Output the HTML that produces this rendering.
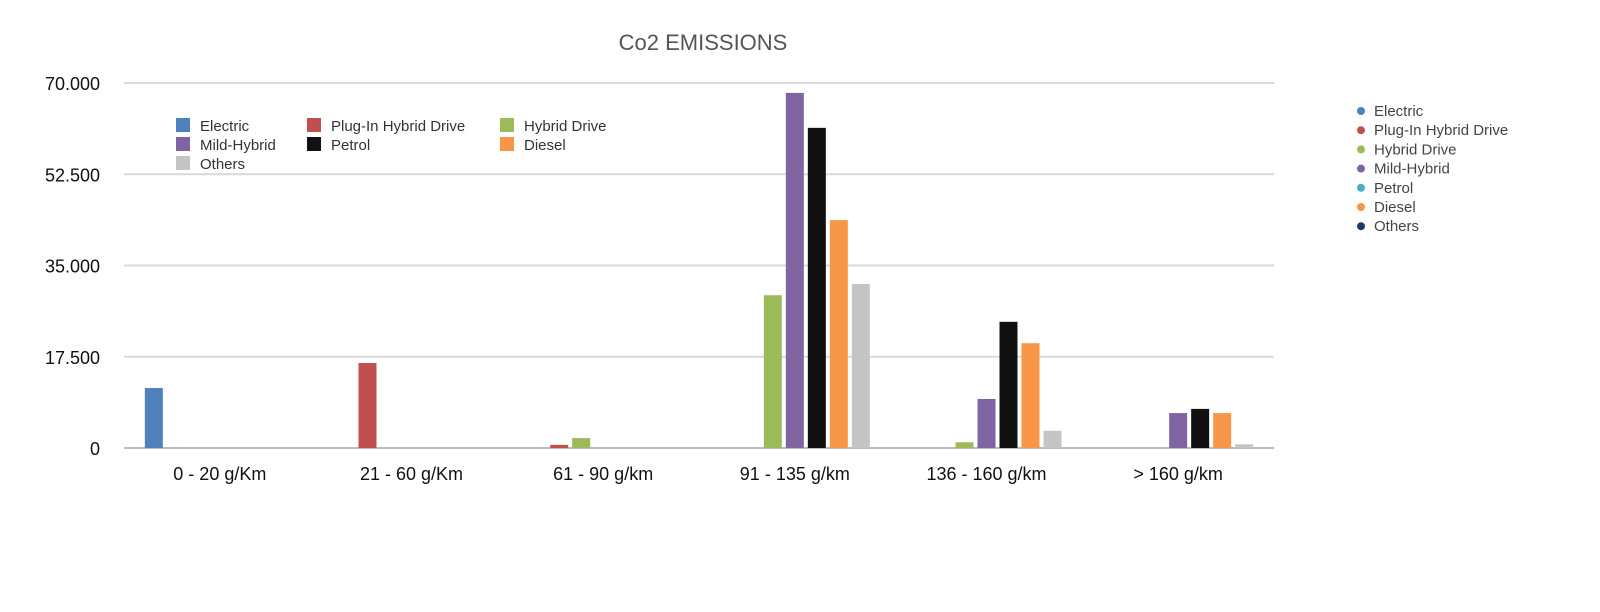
<!DOCTYPE html>
<html><head><meta charset="utf-8"><style>
body{margin:0;background:#fff;font-family:"Liberation Sans",sans-serif;}
</style></head><body>
<svg width="1600" height="607" xmlns="http://www.w3.org/2000/svg">
<text x="703" y="50" text-anchor="middle" font-size="22" fill="#555">Co2 EMISSIONS</text>
<g id="grid"></g><g id="bars"></g><g id="xl"></g>
<g id="leg1"></g><g id="leg2"></g>
</svg>
<script>
const categories=["0 - 20 g/Km","21 - 60 g/Km","61 - 90 g/km","91 - 135 g/km","136 - 160 g/km","> 160 g/km"];
const seriesNames=["Electric","Plug-In Hybrid Drive","Hybrid Drive","Mild-Hybrid","Petrol","Diesel","Others"];
const electric=[11500,0,0,0,0,0];
const plugIn=[0,16300,600,0,0,0];
const hybrid=[0,0,1900,29300,1100,0];
const mild=[0,0,0,68100,9400,6700];
const petrol=[0,0,0,61400,24200,7500];
const diesel=[0,0,0,43700,20100,6700];
const others=[0,0,0,31450,3300,700];
const yTicks=[0,17500,35000,52500,70000];
const yTickLabels=["0","17.500","35.000","52.500","70.000"];
const series=[electric,plugIn,hybrid,mild,petrol,diesel,others];
const colors=["#4f81bd","#c0504d","#9bbb59","#8064a2","#111111","#f79646","#c4c4c4"];
const legend2Colors=["#4f81bd","#c0504d","#9bbb59","#8064a2","#4bacc6","#f79646","#1f3864"];
const NS="http://www.w3.org/2000/svg";
const x0=124,x1=1274,y0=448,yTop=83,yMax=70000;
const band=(x1-x0)/categories.length;
const y=v=>y0-(v/yMax)*(y0-yTop);
function mk(t,a,p){const e=document.createElementNS(NS,t);for(const k in a)e.setAttribute(k,a[k]);p.appendChild(e);return e;}
const grid=document.getElementById('grid');
yTicks.forEach((t,i)=>{
 const l=mk('line',{x1:x0,x2:x1,y1:y(t),y2:y(t),stroke:i==0?'#bbb':'#d9d9d9','stroke-width':2},grid);
 
 
 const tx=mk('text',{x:100,y:y(t)+7,'text-anchor':'end','font-size':18,fill:'#111'},grid);
 tx.textContent=yTickLabels[i];
 
 
});
const bars=document.getElementById('bars');
const slot=22,bw=18,off=(band-slot*7)/2;
series.forEach((s,si)=>s.forEach((v,ci)=>{
 if(v<=0)return;
 const r=mk('rect',{x:x0+ci*band+off+si*slot+2,y:y(v),width:bw,height:y0-y(v),fill:colors[si]},bars);
 
 
}));
const xl=document.getElementById('xl');
categories.forEach((c,i)=>{
 const t=mk('text',{x:x0+band*(i+0.5),y:480,'text-anchor':'middle','font-size':18,fill:'#111'},xl);
 t.textContent=c;
 
 
});
const leg1=document.getElementById('leg1');
const lx=[176,307,500];
seriesNames.forEach((n,i)=>{
 const cx=lx[i%3],cy=118+Math.floor(i/3)*19;
 const r=mk('rect',{x:cx,y:cy,width:14,height:14,fill:colors[i]},leg1);
 
 
 const t=mk('text',{x:cx+24,y:cy+13,'font-size':15,fill:'#333'},leg1);
 t.textContent=n;
 
 
});
const leg2=document.getElementById('leg2');
seriesNames.forEach((n,i)=>{
 const cy=111+i*19.2;
 const c=mk('circle',{cx:1361,cy:cy,r:4,fill:legend2Colors[i]},leg2);
 
 
 const t=mk('text',{x:1374,y:cy+5,'font-size':15,fill:'#444'},leg2);
 t.textContent=n;
 
 
});
</script>
</body></html>
